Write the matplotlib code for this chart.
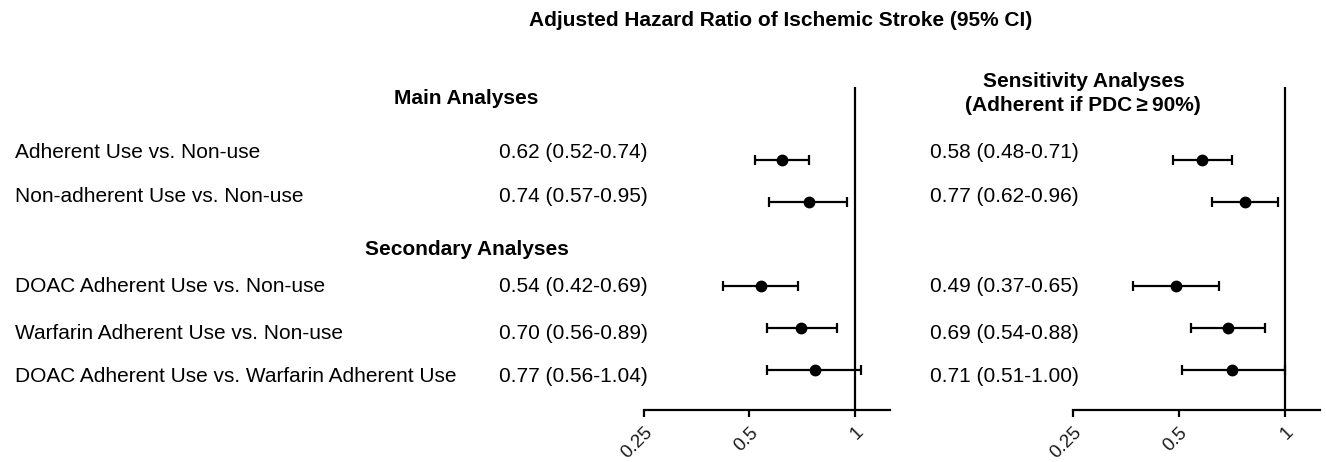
import matplotlib
matplotlib.use("Agg")
import matplotlib.pyplot as plt
from matplotlib.ticker import FixedLocator, NullLocator

plt.rcParams['font.family'] = ['Liberation Sans', 'DejaVu Sans']

# ---- data ----
labels = ["Adherent Use vs. Non-use",
          "Non-adherent Use vs. Non-use",
          "DOAC Adherent Use vs. Non-use",
          "Warfarin Adherent Use vs. Non-use",
          "DOAC Adherent Use vs. Warfarin Adherent Use"]
main_hr = [0.62, 0.74, 0.54, 0.70, 0.77]
main_lo = [0.52, 0.57, 0.42, 0.56, 0.56]
main_hi = [0.74, 0.95, 0.69, 0.89, 1.04]
sens_hr = [0.58, 0.77, 0.49, 0.69, 0.71]
sens_lo = [0.48, 0.62, 0.37, 0.54, 0.51]
sens_hi = [0.71, 0.96, 0.65, 0.88, 1.00]
tick_vals = [0.25, 0.5, 1]
tick_labels = ["0.25", "0.5", "1"]
title = "Adjusted Hazard Ratio of Ischemic Stroke (95% CI)"

# layout: marker rows (axis units) and text baselines (pixels from top)
row_y = [1, 2, 4, 5, 6]
ylim = (6.95, -0.74)
text_base_px = [158, 202, 292, 339, 382]

W, H = 1326, 462
fig = plt.figure(figsize=(W / 100, H / 100), dpi=100)

def fx(px):
    return px / W

def fy(py):
    return 1 - py / H

FS = 15

def make_panel(left_px, right_px, hr, lo, hi):
    ax = fig.add_axes([fx(left_px), fy(410), fx(right_px - left_px), (410 - 87) / H])
    ax.set_xscale('log')
    ax.set_xlim(0.25, 1.26)
    ax.set_ylim(*ylim)
    for s in ['top', 'right', 'left']:
        ax.spines[s].set_visible(False)
    ax.spines['bottom'].set_linewidth(1.6)
    ax.xaxis.set_major_locator(FixedLocator(tick_vals))
    ax.xaxis.set_minor_locator(NullLocator())
    ax.set_xticklabels(tick_labels, rotation=45, ha='right', rotation_mode='anchor',
                       fontsize=13.5, color='#1a1a1a')
    ax.tick_params(axis='x', length=5, width=1.6, pad=5)
    ax.set_yticks([])
    ax.axvline(1, color='black', lw=1.6)
    xerr = [[h - l for h, l in zip(hr, lo)], [u - h for h, u in zip(hr, hi)]]
    ax.errorbar(hr, row_y, xerr=xerr, fmt='o', color='black', ms=7.5,
                elinewidth=1.6, capsize=3.5, capthick=1.6)
    ax.patch.set_alpha(0)
    return ax

ax1 = make_panel(644, 890, main_hr, main_lo, main_hi)
ax2 = make_panel(1073, 1320, sens_hr, sens_lo, sens_hi)

for yb, lab, h, l, u, sh, sl, su in zip(text_base_px, labels, main_hr, main_lo, main_hi,
                                         sens_hr, sens_lo, sens_hi):
    fig.text(fx(15), fy(yb), lab, va='baseline', ha='left', fontsize=FS)
    fig.text(fx(499), fy(yb), f"{h:.2f} ({l:.2f}-{u:.2f})",
             va='baseline', ha='left', fontsize=FS)
    fig.text(fx(930), fy(yb), f"{sh:.2f} ({sl:.2f}-{su:.2f})",
             va='baseline', ha='left', fontsize=FS)

fig.text(fx(466), fy(104), "Main Analyses", ha='center', va='baseline',
         fontsize=FS, fontweight='bold')
fig.text(fx(467), fy(255), "Secondary Analyses", ha='center', va='baseline',
         fontsize=FS, fontweight='bold')
fig.text(fx(1185), fy(87), "Sensitivity Analyses", ha='right', va='baseline',
         fontsize=FS, fontweight='bold')
fig.text(fx(1201), fy(111), "(Adherent if PDC\u2009\u2265\u200990%)", ha='right',
         va='baseline', fontsize=FS, fontweight='bold')
fig.text(fx(781), fy(26), title, ha='center', va='baseline',
         fontsize=FS, fontweight='bold')

fig.savefig("out.png", dpi=100, facecolor='white')
